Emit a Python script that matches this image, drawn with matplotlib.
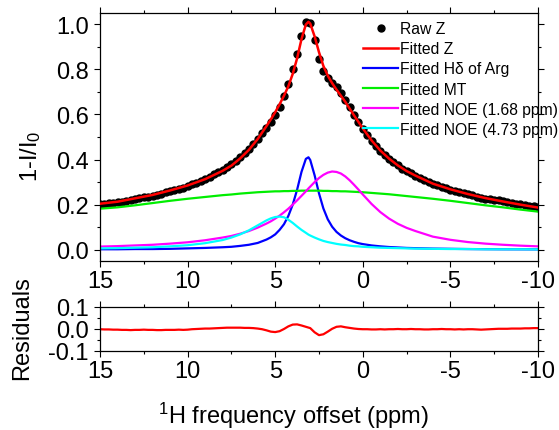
import numpy as np
import matplotlib
matplotlib.use('Agg')
import matplotlib.pyplot as plt
from matplotlib.ticker import MultipleLocator

plt.rcParams['font.family'] = ['Liberation Sans', 'DejaVu Sans']
plt.rcParams['mathtext.fontset'] = 'custom'
plt.rcParams['mathtext.rm'] = 'Liberation Sans'
plt.rcParams['mathtext.it'] = 'Liberation Sans:italic'
plt.rcParams['axes.unicode_minus'] = False

# --- data ---
# offsets for the fitted curves (ppm)
x_fit = [15, 14, 13, 12, 11, 10, 9, 8, 7.5, 7, 6.5, 6, 5.5, 5.25, 5, 4.75, 4.5, 4.25, 4,
         3.75, 3.5, 3.25, 3.1, 3, 2.75, 2.5, 2.25, 2, 1.75, 1.5, 1.25, 1, 0.75, 0.5, 0.25, 0,
         -0.5, -1, -1.5, -2, -2.5, -3, -4, -5, -6, -7, -8, -9, -10]

fit_z = [0.204, 0.213, 0.228, 0.243, 0.263, 0.285, 0.313, 0.350, 0.373, 0.405, 0.443, 0.491,
         0.548, 0.578, 0.610, 0.645, 0.683, 0.725, 0.780, 0.849, 0.934, 0.999, 1.011, 1.003,
         0.946, 0.876, 0.815, 0.772, 0.739, 0.710, 0.683, 0.656, 0.626, 0.596, 0.567, 0.538,
         0.485, 0.440, 0.404, 0.374, 0.349, 0.329, 0.293, 0.268, 0.247, 0.229, 0.214, 0.200, 0.187]

fit_arg = [0.002, 0.002, 0.003, 0.003, 0.004, 0.006, 0.008, 0.011, 0.013, 0.017, 0.022, 0.030,
           0.045, 0.055, 0.068, 0.088, 0.113, 0.150, 0.200, 0.266, 0.345, 0.403, 0.410, 0.398,
           0.330, 0.250, 0.183, 0.135, 0.102, 0.079, 0.063, 0.051, 0.042, 0.035, 0.029, 0.025,
           0.019, 0.015, 0.012, 0.010, 0.008, 0.007, 0.005, 0.004, 0.003, 0.0025, 0.002, 0.0018, 0.0015]

fit_mt = [0.182, 0.188, 0.197, 0.207, 0.217, 0.226, 0.234, 0.242, 0.245, 0.249, 0.252, 0.255,
          0.257, 0.258, 0.259, 0.259, 0.260, 0.260, 0.261, 0.261, 0.262, 0.262, 0.262, 0.262,
          0.262, 0.262, 0.261, 0.261, 0.260, 0.260, 0.259, 0.259, 0.258, 0.257, 0.256, 0.255,
          0.252, 0.249, 0.246, 0.242, 0.238, 0.234, 0.226, 0.217, 0.207, 0.197, 0.188, 0.178, 0.169]

fit_noe168 = [0.014, 0.016, 0.019, 0.022, 0.027, 0.033, 0.042, 0.054, 0.061, 0.071, 0.083, 0.098,
              0.116, 0.126, 0.138, 0.151, 0.166, 0.182, 0.200, 0.219, 0.239, 0.259, 0.272, 0.280,
              0.300, 0.318, 0.332, 0.342, 0.347, 0.345, 0.338, 0.325, 0.308, 0.288, 0.267, 0.245,
              0.203, 0.167, 0.138, 0.115, 0.097, 0.083, 0.058, 0.044, 0.034, 0.027, 0.022, 0.018, 0.015]

fit_noe473 = [0.006, 0.007, 0.009, 0.011, 0.015, 0.020, 0.029, 0.043, 0.054, 0.068, 0.086, 0.108,
              0.130, 0.139, 0.145, 0.147, 0.144, 0.133, 0.119, 0.103, 0.088, 0.075, 0.067, 0.063,
              0.054, 0.046, 0.039, 0.034, 0.030, 0.026, 0.023, 0.021, 0.018, 0.016, 0.015, 0.013,
              0.011, 0.009, 0.008, 0.007, 0.006, 0.005, 0.004, 0.003, 0.003, 0.002, 0.002, 0.002, 0.0015]

# measured points, 15 -> -10 ppm in 0.25 ppm steps
x_raw = np.linspace(15, -10, 101)

raw_z = [0.203, 0.204, 0.206, 0.208, 0.210, 0.213, 0.216, 0.219, 0.224, 0.228,
         0.232, 0.235, 0.239, 0.243, 0.248, 0.254, 0.259, 0.264, 0.271, 0.275,
         0.282, 0.291, 0.298, 0.306, 0.315, 0.324, 0.334, 0.344, 0.355, 0.367,
         0.379, 0.395, 0.411, 0.428, 0.448, 0.470, 0.493, 0.518, 0.542, 0.566,
         0.596, 0.635, 0.683, 0.737, 0.800, 0.870, 0.950, 1.009, 1.007, 0.931,
         0.848, 0.791, 0.760, 0.740, 0.720, 0.695, 0.664, 0.631, 0.598, 0.567,
         0.537, 0.510, 0.483, 0.460, 0.439, 0.419, 0.403, 0.388, 0.374, 0.360,
         0.348, 0.339, 0.328, 0.318, 0.308, 0.299, 0.292, 0.285, 0.280, 0.273,
         0.267, 0.261, 0.256, 0.250, 0.246, 0.241, 0.236, 0.230, 0.227, 0.224,
         0.221, 0.219, 0.215, 0.211, 0.209, 0.205, 0.202, 0.200, 0.196, 0.194, 0.191]

residuals = [-0.001, -0.002, -0.002, -0.003, -0.003, -0.004, -0.004, -0.005, -0.004, -0.004,
             -0.003, -0.004, -0.004, -0.005, -0.005, -0.004, -0.004, -0.004, -0.003, -0.004,
             -0.003, -0.001, 0.000, 0.001, 0.002, 0.002, 0.003, 0.004, 0.005, 0.006,
             0.006, 0.006, 0.006, 0.005, 0.005, 0.004, 0.002, -0.001, -0.006, -0.012,
             -0.014, -0.010, 0.000, 0.012, 0.020, 0.021, 0.016, 0.010, 0.004, -0.015,
             -0.028, -0.024, -0.012, 0.001, 0.010, 0.012, 0.008, 0.005, 0.002, 0.000,
             -0.001, -0.001, -0.002, -0.002, -0.001, -0.002, -0.001, -0.001, 0.000, -0.001,
             -0.001, 0.000, -0.001, -0.001, -0.002, -0.002, -0.001, -0.001, 0.000, -0.001,
             -0.001, -0.002, -0.001, -0.002, -0.001, -0.001, -0.002, -0.003, -0.002, -0.001,
             0.000, 0.001, 0.001, 0.001, 0.002, 0.002, 0.002, 0.003, 0.003, 0.004, 0.004]

W, H = 559, 431
fig = plt.figure(figsize=(W / 100, H / 100), dpi=100)
ax = fig.add_axes([100 / W, 1 - 262 / H, 438 / W, 248 / H])
axr = fig.add_axes([100 / W, 1 - 352 / H, 438 / W, 44 / H])

ax.plot(x_raw, raw_z, 'o', color='black', ms=5.0, mec='black', label='Raw Z', zorder=2)
ax.plot(x_fit, fit_z, color='#ff0000', lw=1.8, label='Fitted Z', zorder=3)
ax.plot(x_fit, fit_arg, color='#0000ff', lw=1.6, label='Fitted H\u03b4 of Arg')
ax.plot(x_fit, fit_mt, color='#00ee00', lw=1.6, label='Fitted MT')
ax.plot(x_fit, fit_noe168, color='#ff00ff', lw=1.6, label='Fitted NOE (1.68 ppm)')
ax.plot(x_fit, fit_noe473, color='#00ffff', lw=1.6, label='Fitted NOE (4.73 ppm)')

axr.plot(x_raw, residuals, color='#ff0000', lw=1.6)

ax.set_xlim(15, -10)
ax.set_ylim(-0.05, 1.05)
axr.set_xlim(15, -10)
axr.set_ylim(-0.1, 0.1)

ax.xaxis.set_major_locator(MultipleLocator(5))
ax.xaxis.set_minor_locator(MultipleLocator(2.5))
ax.yaxis.set_major_locator(MultipleLocator(0.2))
ax.yaxis.set_minor_locator(MultipleLocator(0.1))
ax.yaxis.set_major_formatter(plt.FormatStrFormatter('%.1f'))
axr.xaxis.set_major_locator(MultipleLocator(5))
axr.xaxis.set_minor_locator(MultipleLocator(2.5))
axr.yaxis.set_major_locator(MultipleLocator(0.1))
axr.yaxis.set_minor_locator(MultipleLocator(0.05))
axr.yaxis.set_major_formatter(plt.FormatStrFormatter('%.1f'))

for a in (ax, axr):
    a.tick_params(which='both', direction='out', top=True, right=True,
                  labelsize=17, width=0.8, colors='black')
    a.tick_params(which='major', length=4)
    a.tick_params(which='minor', length=2.5)
    a.tick_params(axis='x', pad=2.5)
    a.tick_params(axis='y', pad=4)
    for s in a.spines.values():
        s.set_linewidth(0.9)

ax.legend(loc='upper left', bbox_to_anchor=(363 / W, 1 - 22 / H),
          bbox_transform=fig.transFigure, frameon=False, fontsize=11.3,
          handlelength=2.25, handletextpad=0.12, borderpad=0, borderaxespad=0,
          labelspacing=0.33, numpoints=1, markerscale=1.0)

fig.text(31 / W, 1 - 156 / H, '1-I/I$_0$', rotation=90, ha='center', va='center', fontsize=17)
fig.text(22 / W, 1 - 328 / H, 'Residuals', rotation=90, ha='center', va='center', fontsize=17)
fig.text(293 / W, 1 - 416 / H, '$^1$H frequency offset (ppm)', ha='center', va='center', fontsize=17)

fig.savefig('out.png', dpi=100)
